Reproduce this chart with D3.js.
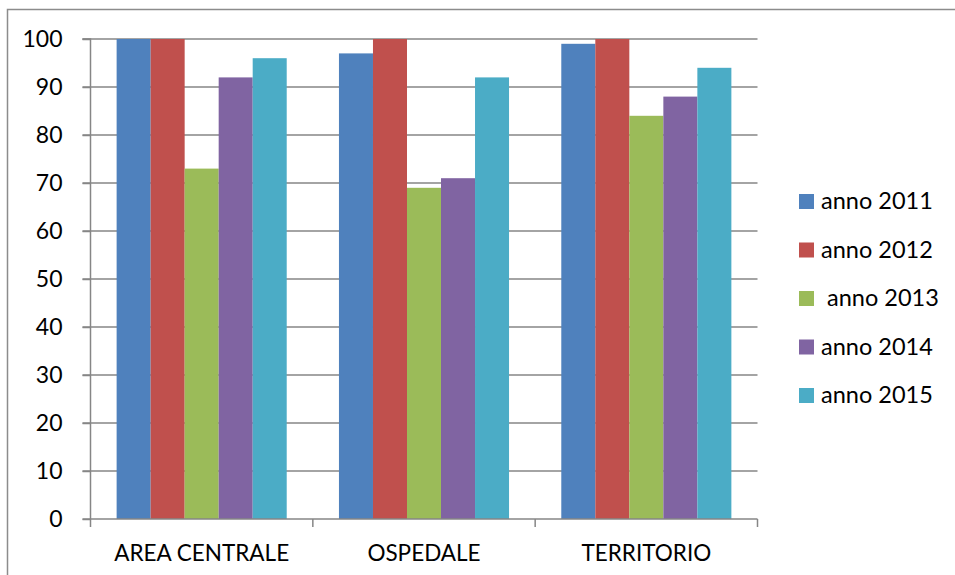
<!DOCTYPE html>
<html><head><meta charset="utf-8">
<script src="https://cdn.jsdelivr.net/npm/d3@7/dist/d3.min.js"></script>
<style>
html,body{margin:0;padding:0;background:#fff;}
svg{display:block;font-family:Lato,"Liberation Sans",Arial,sans-serif;}
</style></head>
<body><svg id="c" width="955" height="575"></svg>
<script>
const categories = ["AREA CENTRALE", "OSPEDALE", "TERRITORIO"];
const seriesNames = ["anno 2011", "anno 2012", " anno 2013", "anno 2014", "anno 2015"];
const seriesColors = ["#4F81BD", "#C0504D", "#9BBB59", "#8064A2", "#4BACC6"];
const values2011 = [100, 97, 99];
const values2012 = [100, 100, 100];
const values2013 = [73, 69, 84];
const values2014 = [92, 71, 88];
const values2015 = [96, 92, 94];
const yTicks = [0, 10, 20, 30, 40, 50, 60, 70, 80, 90, 100];

const seriesValues = [values2011, values2012, values2013, values2014, values2015];
const svg = d3.select("#c");
const FONT = "Lato, 'Liberation Sans', Arial, sans-serif";

svg.append("rect").attr("x", 7.5).attr("y", 9.5).attr("width", 1000).attr("height", 1000)
  .attr("fill", "none").attr("stroke", "#8c8c8c").attr("stroke-width", 1.5);

const L = 90.5, R = 757.5, T = 39, B = 519;
const x = d3.scaleBand().domain(categories).range([L, R]).paddingInner(0).paddingOuter(0);
const groupW = x.bandwidth() * 0.765;
const bx = d3.scaleBand().domain(d3.range(seriesNames.length))
  .range([(x.bandwidth() - groupW) / 2, (x.bandwidth() + groupW) / 2]).padding(0);
const y = d3.scaleLinear().domain([0, 100]).range([B, T]);

const grid = "#868686";
svg.append("g").selectAll("line").data(yTicks.filter(d => d > 0)).join("line")
  .attr("x1", L - 8).attr("x2", R).attr("y1", d => y(d)).attr("y2", d => y(d))
  .attr("stroke", grid).attr("stroke-width", 1.5);

categories.forEach((c, ci) => {
  svg.append("g").selectAll("rect").data(seriesValues.map((s, si) => ({si, v: s[ci]}))).join("rect")
    .attr("x", d => x(c) + bx(d.si))
    .attr("width", bx.bandwidth())
    .attr("y", d => y(d.v))
    .attr("height", d => B - y(d.v))
    .attr("fill", d => seriesColors[d.si]);
});

const yAxis = d3.axisLeft(y).tickValues(yTicks).tickSize(8).tickPadding(20);
const gy = svg.append("g").attr("transform", `translate(${L},0)`).call(yAxis);
gy.select(".domain").attr("stroke", grid).attr("stroke-width", 1.5).attr("d", `M-8,${T}H0V${B}`);
gy.selectAll(".tick line").attr("stroke", grid).attr("stroke-width", 1.5);
gy.selectAll(".tick text").attr("font-size", 23).attr("fill", "#000").attr("font-family", FONT);

const xAxis = d3.axisBottom(x).tickSize(0).tickPadding(26);
const gx = svg.append("g").attr("transform", `translate(0,${B})`).call(xAxis);
gx.select(".domain").attr("stroke", grid).attr("stroke-width", 1.5).attr("d", `M${L - 8},0H${R}`);
gx.selectAll(".tick text").attr("font-size", 22.5).attr("fill", "#000").attr("font-family", FONT);
svg.append("g").selectAll("line").data(d3.range(categories.length + 1)).join("line")
  .attr("x1", i => L + i * x.step()).attr("x2", i => L + i * x.step())
  .attr("y1", B).attr("y2", B + 8).attr("stroke", grid).attr("stroke-width", 1.5);

const lg = svg.append("g").attr("transform", "translate(799,194)");
const items = lg.selectAll("g").data(seriesNames).join("g")
  .attr("transform", (d, i) => `translate(0,${i * 48.5})`);
items.append("rect").attr("width", 15).attr("height", 15).attr("fill", (d, i) => seriesColors[i]);
items.append("text").attr("x", 22).attr("y", 15).attr("font-size", 23.5).attr("fill", "#000")
  .attr("font-family", FONT).style("white-space", "pre").text(d => d);
</script></body></html>
